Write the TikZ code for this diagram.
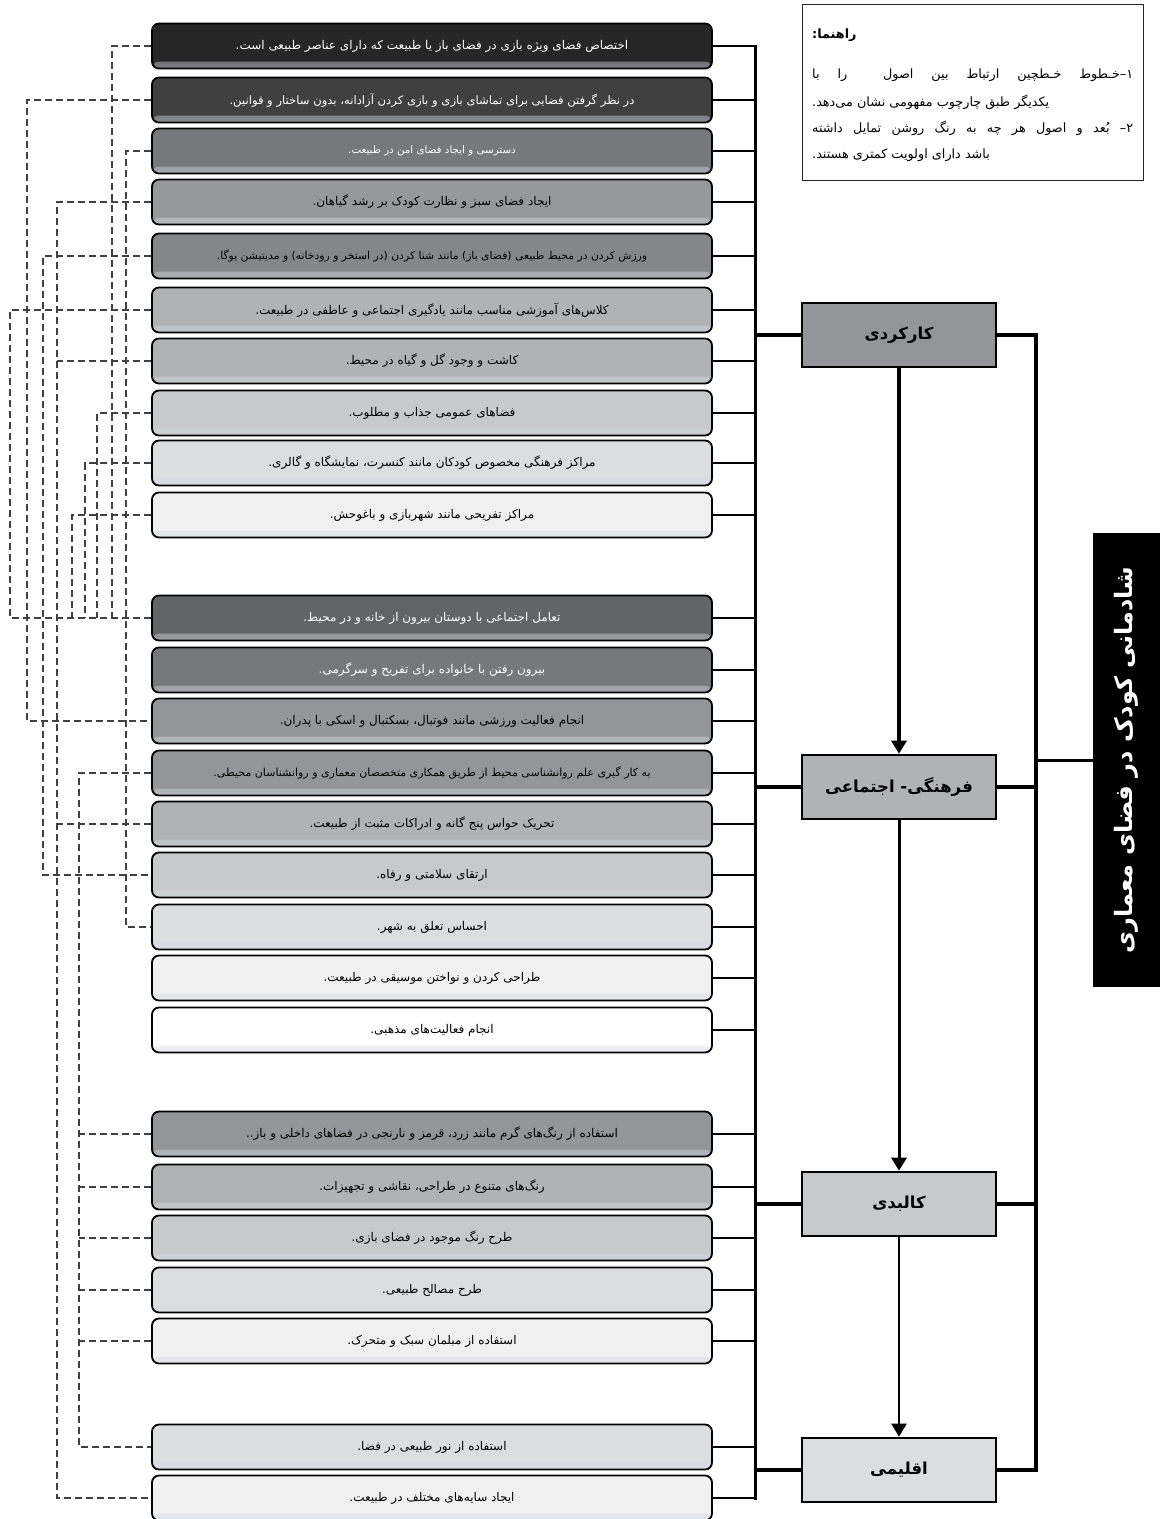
\documentclass[tikz,border=0pt]{standalone}
\usepackage{fontspec}
\usetikzlibrary{arrows.meta}
\TeXXeTstate=1
\newfontfamily\farsifont[Script=Arabic]{DejaVu Sans}
\newcommand\RTLtxt[1]{\beginR #1\endR}
\pgfdeclarelayer{bg}
\pgfsetlayers{bg,main}
\definecolor{g01}{HTML}{262626}
\definecolor{g02}{HTML}{404040}
\definecolor{g03}{HTML}{77787B}
\definecolor{g04}{HTML}{97989A}
\definecolor{g05}{HTML}{858688}
\definecolor{g06}{HTML}{B0B2B4}
\definecolor{g08}{HTML}{C8C9CB}
\definecolor{g09}{HTML}{DCDDDF}
\definecolor{g10}{HTML}{F0F0F0}
\definecolor{g11}{HTML}{636466}
\definecolor{g13}{HTML}{939598}
\definecolor{g19}{HTML}{FFFFFF}
\definecolor{hl}{HTML}{D2DAE2}
\definecolor{dashc}{HTML}{404040}
\begin{document}
\begin{tikzpicture}[x=1pt,y=-1pt,
  item/.style={draw=black, line width=1.8pt, rounded corners=7pt,
    minimum width=560pt, minimum height=45pt, inner sep=0pt,
    font=\farsifont\fontsize{12}{14}\selectfont, text=black,
    fill=#1,
    path picture={\shade[top color=#1, bottom color=#1!50!hl]
      ([yshift=7pt]path picture bounding box.south west) rectangle
      (path picture bounding box.south east);}},
  wt/.style={text=white},
  cat/.style={draw=black, line width=2.6pt, minimum width=194pt,
    minimum height=64pt, inner sep=0pt,
    font=\farsifont\bfseries\fontsize{16.5}{19}\selectfont},
  link/.style={line width=2.2pt},
  busline/.style={line width=3pt, line cap=rect},
  heavy/.style={line width=4pt},
  dsh/.style={draw=dashc, line width=1.2pt, dash pattern=on 7pt off 4pt},
  legendtxt/.style={inner sep=0pt, anchor=west,
    font=\farsifont\fontsize{12.8}{15}\selectfont},
  arr/.style={-{Triangle[length=13pt,width=15pt]}}
]
\useasboundingbox (0,0) rectangle (1160,1519);

% ---------- coordinates ----------
\coordinate (busT) at (755,46);
\coordinate (rbT) at (1036,335);
\coordinate (xa) at (10,0);
\coordinate (xb) at (27,0);
\coordinate (xc) at (43,0);
\coordinate (xd) at (57,0);
\coordinate (xe) at (72,0);
\coordinate (xf) at (79,0);
\coordinate (xg) at (85,0);
\coordinate (xh) at (97,0);
\coordinate (xi) at (112,0);
\coordinate (xj) at (126,0);

% ---------- item boxes ----------
\path
 (432,46)   node[item=g01, wt] (b1)  {\RTLtxt{اختصاص فضای ویژه بازی در فضای باز یا طبیعت که دارای عناصر طبیعی است.}}
 (432,100)  node[item=g02, wt, font=\farsifont\fontsize{11.6}{14}\selectfont] (b2)  {\RTLtxt{در نظر گرفتن فضایی برای تماشای بازی و بازی کردن آزادانه، بدون ساختار و قوانین.}}
 (432,151)  node[item=g03, wt, font=\farsifont\fontsize{10.3}{12}\selectfont] (b3)  {\RTLtxt{دسترسی و ایجاد  فضای امن در طبیعت.}}
 (432,202)  node[item=g04] (b4)  {\RTLtxt{ایجاد فضای سبز  و نظارت کودک بر رشد گیاهان.}}
 (432,256)  node[item=g05, font=\farsifont\fontsize{10.8}{13}\selectfont] (b5)  {\RTLtxt{ورزش کردن در محیط طبیعی (فضای باز) مانند شنا کردن (در استخر و رودخانه) و مدیتیشن یوگا.}}
 (432,310)  node[item=g06] (b6)  {\RTLtxt{کلاس‌های آموزشی مناسب مانند یادگیری اجتماعی و عاطفی در طبیعت.}}
 (432,361)  node[item=g06] (b7)  {\RTLtxt{کاشت و وجود گل و گیاه در محیط.}}
 (432,413)  node[item=g08] (b8)  {\RTLtxt{فضاهای عمومی جذاب و مطلوب.}}
 (432,463)  node[item=g09] (b9)  {\RTLtxt{مراکز فرهنگی مخصوص کودکان مانند کنسرت، نمایشگاه و گالری.}}
 (432,515)  node[item=g10] (b10) {\RTLtxt{مراکز تفریحی مانند شهربازی و باغوحش.}}
 (432,618)  node[item=g11, wt] (b11) {\RTLtxt{تعامل اجتماعی با دوستان بیرون از خانه و در محیط.}}
 (432,670)  node[item=g03, wt] (b12) {\RTLtxt{بیرون رفتن با خانواده برای تفریح و سرگرمی.}}
 (432,721)  node[item=g13] (b13) {\RTLtxt{انجام فعالیت ورزشی مانند فوتبال، بسکتبال و اسکی با پدران.}}
 (432,773)  node[item=g13, font=\farsifont\fontsize{11}{13}\selectfont] (b14) {\RTLtxt{به کار گیری علم روانشناسی محیط از طریق همکاری متخصصان معماری و روانشناسان محیطی.}}
 (432,824)  node[item=g06] (b15) {\RTLtxt{تحریک حواس پنج گانه و ادراکات مثبت از طبیعت.}}
 (432,875)  node[item=g08] (b16) {\RTLtxt{ارتقای سلامتی و رفاه.}}
 (432,927)  node[item=g09] (b17) {\RTLtxt{احساس تعلق به شهر.}}
 (432,978)  node[item=g10] (b18) {\RTLtxt{طراحی کردن و نواختن موسیقی در طبیعت.}}
 (432,1030) node[item=g19] (b19) {\RTLtxt{انجام فعالیت‌های مذهبی.}}
 (432,1134) node[item=g13] (b20) {\RTLtxt{استفاده از رنگ‌های گرم مانند زرد، قرمز و نارنجی در فضاهای داخلی و باز..}}
 (432,1187) node[item=g06] (b21) {\RTLtxt{رنگ‌های متنوع در طراحی، نقاشی و تجهیزات.}}
 (432,1238) node[item=g08] (b22) {\RTLtxt{طرح رنگ موجود در فضای بازی.}}
 (432,1290) node[item=g09] (b23) {\RTLtxt{طرح مصالح طبیعی.}}
 (432,1341) node[item=g10] (b24) {\RTLtxt{استفاده از مبلمان سبک و متحرک.}}
 (432,1447) node[item=g09] (b25) {\RTLtxt{استفاده از نور طبیعی در فضا.}}
 (432,1498) node[item=g10] (b26) {\RTLtxt{ایجاد سایه‌های مختلف در طبیعت.}};

% ---------- category boxes ----------
\node[cat, fill=g13] (k1) at (899,335)  {\RTLtxt{کارکردی}};
\node[cat, fill=g06] (k2) at (899,787)  {\RTLtxt{فرهنگی- اجتماعی}};
\node[cat, fill=g08] (k3) at (899,1204) {\RTLtxt{کالبدی}};
\node[cat, fill=g09] (k4) at (899,1470) {\RTLtxt{اقلیمی}};

% ---------- title bar ----------
\node[fill=black, minimum width=67pt, minimum height=454pt, inner sep=0pt] (blk) at (1126.5,760) {};
\node[rotate=90, text=white, inner sep=0pt,
      font=\farsifont\bfseries\fontsize{24}{28}\selectfont] (blktxt) at (blk.center)
      {\RTLtxt{شادمانی کودک در فضای معماری}};

% ---------- legend ----------
\node[draw=black!85, line width=1pt, minimum width=341pt, minimum height=176pt,
      inner sep=0pt, anchor=north west] (leg) at (802,4) {};
\node[legendtxt, font=\farsifont\bfseries\fontsize{12.8}{15}\selectfont] (l0) at (812,35) {\RTLtxt{راهنما:}};
\node[legendtxt] (l1) at (812,75) {\hbox to 321pt{\beginR ۱–خـطوط\hfill خـطچین\hfill ارتباط\hfill بین\hfill اصول\hfill\hfill را\hfill با\endR}};
\node[legendtxt] (l2) at (812,102) {\RTLtxt{یکدیگر طبق چارچوب مفهومی نشان می‌دهد.}};
\node[legendtxt] (l3) at (812,128) {\hbox to 321pt{\beginR ۲–\hfill بُعد\hfill و\hfill اصول\hfill هر\hfill چه\hfill به\hfill رنگ\hfill روشن\hfill تمایل\hfill داشته\endR}};
\node[legendtxt] (l4) at (812,155) {\RTLtxt{باشد دارای اولویت کمتری هستند.}};

% ---------- connectors (behind) ----------
\begin{pgfonlayer}{bg}
  % left bus
  \draw[busline] (b1.east -| busT) -- (b26.east -| busT);
  \foreach \i in {1,...,26} { \draw[link] (b\i.east) -- (b\i.east -| busT); }
  % categories to left bus
  \foreach \k in {k1,k2,k3,k4} { \draw[heavy] (\k.west) -- (\k.west -| busT); }
  % right bus
  \draw[heavy] (k1.east) -- (k1.east -| rbT) -- (k4.east -| rbT) -- (k4.east);
  \draw[heavy] (k2.east) -- (k2.east -| rbT);
  \draw[heavy] (k3.east) -- (k3.east -| rbT);
  \draw[line width=3pt] (blk.west) -- (blk.west -| rbT);
  % arrows between categories
  \draw[heavy, arr] (k1.south) -- (k2.north);
  \draw[line width=3pt, arr] (k2.south) -- (k3.north);
  \draw[line width=2pt, arr] (k3.south) -- (k4.north);
  % dashed relations
  \draw[dsh] (b6.west) -- (b6.west -| xa) -- (b11.west -| xa) -- (b11.west);
  \draw[dsh] (b1.west) -- (b1.west -| xi) -- (b11.west -| xi);
  \draw[dsh] (b8.west) -- (b8.west -| xh) -- (b11.west -| xh);
  \draw[dsh] (b9.west) -- (b9.west -| xg) -- (b11.west -| xg);
  \draw[dsh] (b10.west) -- (b10.west -| xe) -- (b11.west -| xe);
  \draw[dsh] (b2.west) -- (b2.west -| xb) -- (b13.west -| xb) -- (b13.west);
  \draw[dsh] (b3.west) -- (b3.west -| xj) -- (b17.west -| xj) -- (b17.west);
  \draw[dsh] (b4.west) -- (b4.west -| xd) -- (b26.west -| xd) -- (b26.west);
  \draw[dsh] (b7.west) -- (b7.west -| xd);
  \draw[dsh] (b15.west) -- (b15.west -| xd);
  \draw[dsh] (b5.west) -- (b5.west -| xc) -- (b16.west -| xc) -- (b16.west);
  \draw[dsh] (b14.west) -- (b14.west -| xf) -- (b25.west -| xf) -- (b25.west);
  \foreach \i in {20,...,24} { \draw[dsh] (b\i.west) -- (b\i.west -| xf); }
\end{pgfonlayer}
\end{tikzpicture}
\end{document}
